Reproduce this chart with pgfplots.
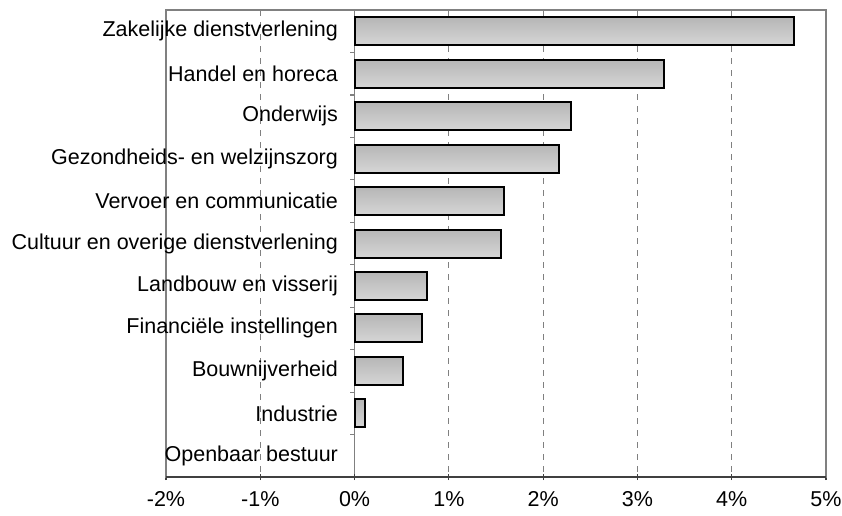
\documentclass[border=0pt]{standalone}
\usepackage{pgfplots}
\pgfplotsset{compat=1.18}
\usepackage{fontspec}
\setmainfont{Liberation Sans}

\definecolor{frame}{RGB}{128,128,128}
\definecolor{axisdark}{RGB}{64,64,64}
\definecolor{bartop}{RGB}{182,182,182}
\definecolor{barbot}{RGB}{214,214,214}

\pgfplotsset{onebar/.style={xbar, bar width=14pt, bar shift=0pt, draw=black,
  line width=1pt, top color=bartop, bottom color=barbot}}

\begin{document}
\begin{tikzpicture}
\begin{axis}[
  width=330pt, height=233.5pt, scale only axis,
  xmin=-2, xmax=5,
  ymin=-0.5, ymax=10.5, y dir=reverse,
  xtick={-2,-1,1,2,3,4,5},
  xticklabels={-2\%,-1\%,1\%,2\%,3\%,4\%,5\%},
  extra x ticks={0}, extra x tick labels={0\%},
  extra x tick style={grid=major, major grid style={solid, frame, line width=0.6pt}},
  xmajorgrids,
  major grid style={dashed, frame, line width=0.5pt, dash pattern=on 3pt off 3pt},
  ytick={0,...,10},
  yticklabels={Zakelijke dienstverlening, Handel en horeca, Onderwijs,
    Gezondheids- en welzijnszorg, Vervoer en communicatie,
    Cultuur en overige dienstverlening, Landbouw en visserij,
    Financiële instellingen, Bouwnijverheid, Industrie, Openbaar bestuur},
  major y tick style={draw=none},
  yticklabel style={anchor=east, xshift=91pt, font=\fontsize{10.75}{12}\selectfont},
  xticklabel style={font=\fontsize{10.75}{12}\selectfont, yshift=-2pt},
  axis line style={frame, line width=0.8pt},
  x tick style={axisdark, line width=0.6pt},
  xtick pos=bottom, major tick length=3pt,
  tick align=center,
  clip=false,
]
\addplot[onebar] coordinates {(4.66,0)};
\addplot[onebar] coordinates {(3.28,1)};
\addplot[onebar] coordinates {(2.30,2)};
\addplot[onebar] coordinates {(2.17,3)};
\addplot[onebar] coordinates {(1.58,4)};
\addplot[onebar] coordinates {(1.55,5)};
\addplot[onebar] coordinates {(0.77,6)};
\addplot[onebar] coordinates {(0.71,7)};
\addplot[onebar] coordinates {(0.51,8)};
\addplot[onebar] coordinates {(0.11,9)};
% Openbaar bestuur: 0 (no visible bar)
\draw[axisdark, line width=0.8pt] (axis cs:-2,10.5) -- (axis cs:5,10.5);
\pgfplotsinvokeforeach{0.5,1.5,2.5,3.5,4.5,5.5,6.5,7.5,8.5,9.5}{
  \draw[frame, line width=0.6pt] (axis cs:0,#1) -- ++(-2.5pt,0pt);
}
\coordinate (sw) at (axis cs:-2,10.5);
\coordinate (ne) at (axis cs:5,-0.5);
\end{axis}
\pgfresetboundingbox
\path ([xshift=-83pt,yshift=-19pt]sw) rectangle ([xshift=8pt,yshift=5pt]ne);
\end{tikzpicture}
\end{document}
